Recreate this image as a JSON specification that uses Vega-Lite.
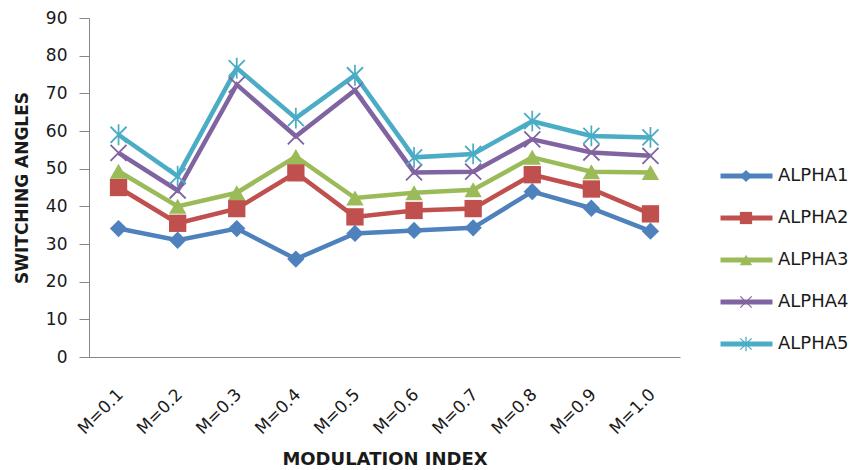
{
  "$schema": "https://vega.github.io/schema/vega-lite/v6.json",
  "width": 591,
  "height": 339,
  "autosize": {"type": "none"},
  "padding": {"left": 89, "top": 18, "right": 179, "bottom": 113},
  "background": "white",
  "config": {
    "view": {"stroke": null},
    "font": "DejaVu Sans",
    "axis": {"grid": false, "domainColor": "#868686", "tickColor": "#868686", "labelColor": "#1a1a1a", "titleColor": "#1a1a1a", "labelFont": "DejaVu Sans", "titleFont": "DejaVu Sans"}
  },
  "data": {
    "values": [
      {"m": "M=0.1", "series": "ALPHA1", "value": 34.1},
      {"m": "M=0.2", "series": "ALPHA1", "value": 31.0},
      {"m": "M=0.3", "series": "ALPHA1", "value": 34.1},
      {"m": "M=0.4", "series": "ALPHA1", "value": 26.0},
      {"m": "M=0.5", "series": "ALPHA1", "value": 32.8},
      {"m": "M=0.6", "series": "ALPHA1", "value": 33.6},
      {"m": "M=0.7", "series": "ALPHA1", "value": 34.3},
      {"m": "M=0.8", "series": "ALPHA1", "value": 43.9},
      {"m": "M=0.9", "series": "ALPHA1", "value": 39.5},
      {"m": "M=1.0", "series": "ALPHA1", "value": 33.4},
      {"m": "M=0.1", "series": "ALPHA2", "value": 45.0},
      {"m": "M=0.2", "series": "ALPHA2", "value": 35.5},
      {"m": "M=0.3", "series": "ALPHA2", "value": 39.4},
      {"m": "M=0.4", "series": "ALPHA2", "value": 48.9},
      {"m": "M=0.5", "series": "ALPHA2", "value": 37.2},
      {"m": "M=0.6", "series": "ALPHA2", "value": 38.9},
      {"m": "M=0.7", "series": "ALPHA2", "value": 39.4},
      {"m": "M=0.8", "series": "ALPHA2", "value": 48.4},
      {"m": "M=0.9", "series": "ALPHA2", "value": 44.6},
      {"m": "M=1.0", "series": "ALPHA2", "value": 38.0},
      {"m": "M=0.1", "series": "ALPHA3", "value": 49.3},
      {"m": "M=0.2", "series": "ALPHA3", "value": 40.0},
      {"m": "M=0.3", "series": "ALPHA3", "value": 43.6},
      {"m": "M=0.4", "series": "ALPHA3", "value": 53.2},
      {"m": "M=0.5", "series": "ALPHA3", "value": 42.2},
      {"m": "M=0.6", "series": "ALPHA3", "value": 43.6},
      {"m": "M=0.7", "series": "ALPHA3", "value": 44.4},
      {"m": "M=0.8", "series": "ALPHA3", "value": 53.0},
      {"m": "M=0.9", "series": "ALPHA3", "value": 49.2},
      {"m": "M=1.0", "series": "ALPHA3", "value": 49.0},
      {"m": "M=0.1", "series": "ALPHA4", "value": 54.2},
      {"m": "M=0.2", "series": "ALPHA4", "value": 44.2},
      {"m": "M=0.3", "series": "ALPHA4", "value": 72.3},
      {"m": "M=0.4", "series": "ALPHA4", "value": 58.6},
      {"m": "M=0.5", "series": "ALPHA4", "value": 70.8},
      {"m": "M=0.6", "series": "ALPHA4", "value": 49.0},
      {"m": "M=0.7", "series": "ALPHA4", "value": 49.2},
      {"m": "M=0.8", "series": "ALPHA4", "value": 57.8},
      {"m": "M=0.9", "series": "ALPHA4", "value": 54.3},
      {"m": "M=1.0", "series": "ALPHA4", "value": 53.4},
      {"m": "M=0.1", "series": "ALPHA5", "value": 59.0},
      {"m": "M=0.2", "series": "ALPHA5", "value": 48.0},
      {"m": "M=0.3", "series": "ALPHA5", "value": 76.7},
      {"m": "M=0.4", "series": "ALPHA5", "value": 63.4},
      {"m": "M=0.5", "series": "ALPHA5", "value": 74.8},
      {"m": "M=0.6", "series": "ALPHA5", "value": 53.0},
      {"m": "M=0.7", "series": "ALPHA5", "value": 53.9},
      {"m": "M=0.8", "series": "ALPHA5", "value": 62.6},
      {"m": "M=0.9", "series": "ALPHA5", "value": 58.7},
      {"m": "M=1.0", "series": "ALPHA5", "value": 58.3}
    ]
  },
  "encoding": {
    "x": {
      "field": "m", "type": "ordinal",
      "scale": {"type": "point", "padding": 0.5},
      "axis": {"title": "MODULATION INDEX", "titleFontSize": 18, "titleFontWeight": "bold", "titlePadding": 14, "labelAngle": -45, "labelFontSize": 17, "ticks": false, "labelPadding": 29, "labelOffset": -4}
    },
    "y": {
      "field": "value", "type": "quantitative",
      "scale": {"domain": [0, 90], "nice": false},
      "axis": {"title": "SWITCHING ANGLES", "titleFontSize": 17, "titleFontWeight": "bold", "values": [0, 10, 20, 30, 40, 50, 60, 70, 80, 90], "labelFontSize": 17, "tickSize": 10, "labelPadding": 12, "titlePadding": 14}
    }
  },
  "layer": [
    {
      "mark": {"type": "line", "strokeWidth": 4.5},
      "encoding": {
        "stroke": {
          "field": "series", "type": "nominal",
          "scale": {"domain": ["ALPHA1", "ALPHA2", "ALPHA3", "ALPHA4", "ALPHA5"], "range": ["#4F81BD", "#C0504D", "#9BBB59", "#8064A2", "#4BACC6"]},
          "legend": {"title": null, "orient": "none", "legendX": 629, "legendY": 148, "symbolType": "stroke", "symbolSize": 2704, "symbolStrokeWidth": 5, "clipHeight": 20, "rowPadding": 22, "labelFontSize": 18, "labelOffset": 3, "labelColor": "#1a1a1a", "labelFont": "DejaVu Sans"}
        }
      }
    },
    {
      "mark": {"type": "point", "filled": true, "size": 300, "opacity": 1},
      "encoding": {
        "color": {
          "field": "series", "type": "nominal",
          "scale": {"range": ["#4F81BD", "#C0504D", "#9BBB59", "#8064A2", "#4BACC6"]},
          "legend": {"title": null, "orient": "none", "legendX": 648, "legendY": 148, "symbolSize": 150, "clipHeight": 20, "rowPadding": 22, "labelFontSize": 18, "labelExpr": "''"}
        },
        "shape": {
          "field": "series", "type": "nominal",
          "scale": {"range": ["diamond", "square", "triangle-up", "M-1,-0.85L-0.85,-1L1,0.85L0.85,1ZM1,-0.85L-0.85,1L-1,0.85L0.85,-1Z", "M-1,-0.85L-0.85,-1L1,0.85L0.85,1ZM1,-0.85L-0.85,1L-1,0.85L0.85,-1ZM-0.1,-1.2L0.1,-1.2L0.1,1.2L-0.1,1.2Z"]},
          "legend": {"title": null, "orient": "none", "legendX": 648, "legendY": 148, "symbolSize": 150, "clipHeight": 20, "rowPadding": 22, "labelFontSize": 18, "labelExpr": "''"}
        }
      }
    }
  ]
}
